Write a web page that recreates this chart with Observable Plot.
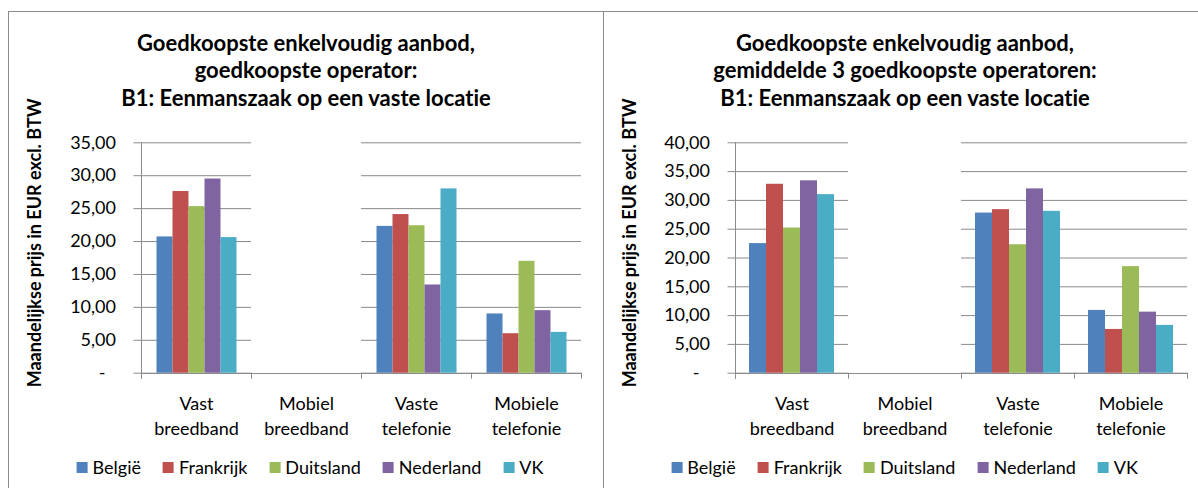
<!DOCTYPE html>
<html><head><meta charset="utf-8">
<script src="https://cdn.jsdelivr.net/npm/d3@7"></script>
<script src="https://cdn.jsdelivr.net/npm/@observablehq/plot@0.6"></script>
<style>
html,body{margin:0;padding:0;background:#fff;}
body{width:1198px;height:488px;overflow:hidden;position:relative;font-family:Lato,sans-serif;color:#000;font-variant-ligatures:none;font-feature-settings:"liga" 0,"clig" 0;}
svg text{font-variant-ligatures:none;font-feature-settings:"liga" 0,"clig" 0;}
.panel{position:absolute;box-sizing:border-box;border:1px solid #8c8c8c;top:11px;height:540px;}
.title{position:absolute;font-weight:700;font-size:22px;line-height:27.5px;text-align:center;white-space:nowrap;width:600px;}
.ytitle{position:absolute;font-weight:700;font-size:18px;line-height:21.6px;width:400px;height:21.6px;text-align:center;transform:rotate(-90deg);white-space:nowrap}
.legend{position:absolute;display:flex;align-items:center;font-size:18px;line-height:22px;white-space:nowrap;transform:translateX(-50%);}
.legend .item{display:flex;align-items:center;margin-right:22px}
.legend .item:last-child{margin-right:0}
.legend .sw{width:11px;height:11px;margin-right:5px}
.chart{position:absolute;top:0}
</style></head><body>
<script>
// ---- data ----
const categories = ["Vast breedband", "Mobiel breedband", "Vaste telefonie", "Mobiele telefonie"];
const categoryLabels = ["Vast\nbreedband", "Mobiel\nbreedband", "Vaste\ntelefonie", "Mobiele\ntelefonie"];
const countries = ["België", "Frankrijk", "Duitsland", "Nederland", "VK"];
const countryColors = ["#4F81BD", "#C0504D", "#9BBB59", "#8064A2", "#4BACC6"];

// left chart: goedkoopste operator (one array per country, columns = categories)
const cheapestBelgie    = [20.7, null, 22.3, 9.0];
const cheapestFrankrijk = [27.6, null, 24.1, 6.0];
const cheapestDuitsland = [25.3, null, 22.4, 17.0];
const cheapestNederland = [29.5, null, 13.4, 9.5];
const cheapestVK        = [20.6, null, 28.0, 6.2];

// right chart: gemiddelde 3 goedkoopste operatoren
const avg3Belgie    = [22.5, null, 27.8, 10.9];
const avg3Frankrijk = [32.8, null, 28.4, 7.6];
const avg3Duitsland = [25.2, null, 22.3, 18.5];
const avg3Nederland = [33.4, null, 32.0, 10.6];
const avg3VK        = [31.0, null, 28.1, 8.3];

const leftTicks = [0, 5, 10, 15, 20, 25, 30, 35];
const rightTicks = [0, 5, 10, 15, 20, 25, 30, 35, 40];

const leftTitle = ["Goedkoopste enkelvoudig aanbod,", "goedkoopste operator:", "B1: Eenmanszaak op een vaste locatie"];
const rightTitle = ["Goedkoopste enkelvoudig aanbod,", "gemiddelde 3 goedkoopste operatoren:", "B1: Eenmanszaak op een vaste locatie"];
const yTitle = "Maandelijkse prijs in EUR excl. BTW";

const gridColor = "#8a8a8a";

function toRows(series) {
  const rows = [];
  series.forEach((vals, i) => vals.forEach((v, j) => {
    if (v != null) rows.push({category: categories[j], country: countries[i], value: v});
  }));
  return rows;
}

const fmt = v => v === 0 ? "-\u2007" : d3.format(".2f")(v).replace(".", ",");

function drawPanel(cfg) {
  const panel = document.createElement("div");
  panel.className = "panel";
  panel.style.left = cfg.panelLeft + "px";
  panel.style.width = cfg.panelWidth + "px";
  document.body.appendChild(panel);

  const data = toRows(cfg.series);
  const yMax = cfg.ticks[cfg.ticks.length - 1];
  const chart = Plot.plot({
    width: cfg.svgWidth, height: 440,
    marginLeft: cfg.marginLeft, marginRight: cfg.marginRight, marginTop: 142.3, marginBottom: 67.3,
    style: {fontFamily: "Lato, sans-serif", fontSize: "18px", color: "#000", background: "transparent", overflow: "visible"},
    fx: {domain: categories, paddingInner: 0, paddingOuter: 0},
    x: {domain: countries, paddingInner: 0, paddingOuter: 0.75, axis: null},
    y: {domain: [0, yMax]},
    color: {domain: countries, range: countryColors},
    marks: [
      Plot.gridY(cfg.ticks, {stroke: gridColor, strokeOpacity: 1, strokeWidth: 1}),
      Plot.barY(data, {fx: "category", x: "country", y: "value", fill: "country"}),
      Plot.axisY(cfg.ticks, {facetAnchor: "left", tickSize: 7.5, tickPadding: 18, stroke: gridColor, strokeOpacity: 1, tickFormat: fmt, label: null, fill: "#000"}),
      Plot.axisFx({anchor: "bottom", facetAnchor: "bottom", tickSize: 0, tickPadding: 19.5, lineHeight: 1.39, label: null, fill: "#000",
        tickFormat: c => categoryLabels[categories.indexOf(c)]})
    ]
  });
  chart.classList.add("chart");
  chart.style.left = cfg.svgLeft + "px";
  document.body.appendChild(chart);

  // axis line and category separator ticks, positioned with the plot's own scales
  const fx = chart.scale("fx"), y = chart.scale("y");
  const y0 = y.apply(0), yTop = y.apply(yMax);
  const g = d3.select(chart).append("g").attr("stroke", gridColor).attr("stroke-width", 1);
  const x0 = Math.round(fx.apply(categories[0])) + 0.5;
  g.append("line").attr("x1", x0).attr("x2", x0).attr("y1", yTop).attr("y2", y0 + 6);
  const edges = categories.map(c => fx.apply(c)).concat([fx.apply(categories[categories.length - 1]) + fx.bandwidth]);
  edges.forEach(e => {
    const xe = Math.round(e) + 0.5;
    g.append("line").attr("x1", xe).attr("x2", xe).attr("y1", y0).attr("y2", y0 + 6);
  });
  const yb = Math.round(y0) + 0.5;
  g.append("line").attr("x1", edges[0]).attr("x2", edges[edges.length - 1]).attr("y1", yb).attr("y2", yb);

  // title
  const t = document.createElement("div");
  t.className = "title";
  t.style.left = (cfg.titleCenter - 300) + "px";
  t.style.top = "28.5px";
  t.innerHTML = cfg.title.join("<br>");
  document.body.appendChild(t);

  // y title
  const yt = document.createElement("div");
  yt.className = "ytitle";
  yt.textContent = yTitle;
  yt.style.left = (cfg.yTitleX - 200) + "px";
  yt.style.top = (242.5 - 10.8) + "px";
  document.body.appendChild(yt);

  // legend
  const lg = document.createElement("div");
  lg.className = "legend";
  lg.style.left = cfg.legendCenter + "px";
  lg.style.top = "456px";
  countries.forEach((c, i) => {
    const it = document.createElement("div");
    it.className = "item";
    const sw = document.createElement("div");
    sw.className = "sw";
    sw.style.background = countryColors[i];
    const tx = document.createElement("span");
    tx.textContent = c;
    it.appendChild(sw); it.appendChild(tx);
    lg.appendChild(it);
  });
  document.body.appendChild(lg);
}

drawPanel({
  panelLeft: 8, panelWidth: 596, svgLeft: 0, svgWidth: 603,
  marginLeft: 139.5, marginRight: 21.3,
  series: [cheapestBelgie, cheapestFrankrijk, cheapestDuitsland, cheapestNederland, cheapestVK],
  ticks: leftTicks, title: leftTitle, titleCenter: 306, yTitleX: 35.4, legendCenter: 310
});
drawPanel({
  panelLeft: 603, panelWidth: 620, svgLeft: 603, svgWidth: 595,
  marginLeft: 131, marginRight: 10,
  series: [avg3Belgie, avg3Frankrijk, avg3Duitsland, avg3Nederland, avg3VK],
  ticks: rightTicks, title: rightTitle, titleCenter: 905, yTitleX: 630, legendCenter: 904.6
});
</script>
</body></html>
